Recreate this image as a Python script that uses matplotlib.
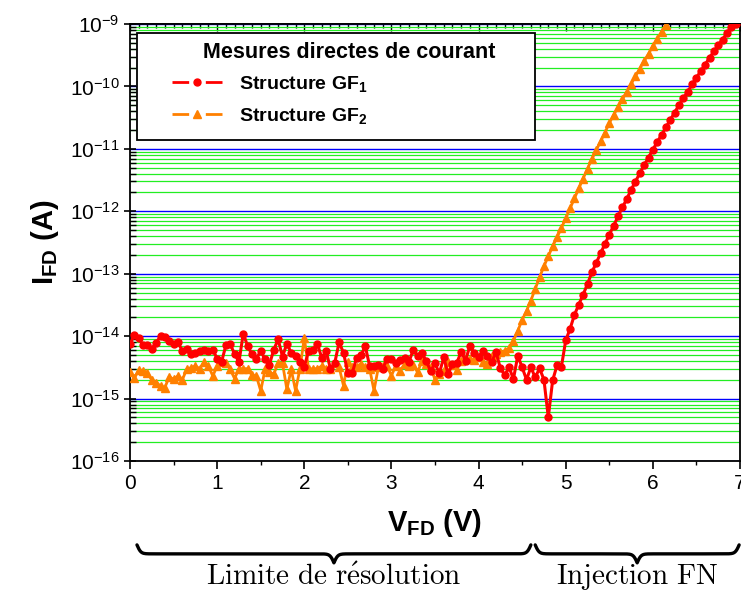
import numpy as np
import matplotlib
matplotlib.use("Agg")
import matplotlib.pyplot as plt
from matplotlib.lines import Line2D
from matplotlib.patches import Rectangle
from matplotlib.ticker import LogLocator, MultipleLocator, NullFormatter

plt.rcParams["font.family"] = ["Liberation Sans", "DejaVu Sans"]
plt.rcParams["mathtext.fontset"] = "custom"
plt.rcParams["mathtext.rm"] = "Liberation Sans"
plt.rcParams["mathtext.bf"] = "Liberation Sans:bold"
plt.rcParams["mathtext.it"] = "Liberation Sans:italic"

# ── données (log10 du courant, pas de 0.05 V) ─────────────────────────────────
pas_v = 0.05

log_i_gf1 = [
    -14.133, -13.975, -14.027, -14.149, -14.149, -14.201, -14.108, -14.000, -14.011, -14.081,
    -14.119, -14.097, -14.237, -14.201, -14.292, -14.268, -14.237, -14.222, -14.237, -14.215,
    -14.362, -14.415, -14.149, -14.131, -14.284, -14.415, -13.959, -14.161, -14.292, -14.362,
    -14.237, -14.372, -14.456, -14.215, -14.053, -14.328, -14.119, -14.268, -14.319, -14.415,
    -14.488, -14.237, -14.222, -14.122, -14.347, -14.237, -14.523, -14.426, -14.097, -14.268,
    -14.585, -14.593, -14.347, -14.310, -14.161, -14.481, -14.481, -14.469, -14.523, -14.362,
    -14.362, -14.426, -14.382, -14.347, -14.415, -14.222, -14.319, -14.276, -14.398, -14.561,
    -14.438, -14.595, -14.340, -14.606, -14.447, -14.431, -14.250, -14.394, -14.155, -14.272,
    -14.340, -14.234, -14.314, -14.420, -14.250, -14.516, -14.622, -14.500, -14.686, -14.314,
    -14.500, -14.697, -14.500, -14.660, -14.516, -14.697, -15.300,
    -14.709, -14.469, -14.495, -14.069, -13.883, -13.659, -13.494, -13.334, -13.164, -12.977,
    -12.828, -12.673, -12.524, -12.375, -12.231, -12.082, -11.938, -11.805, -11.656, -11.523,
    -11.390, -11.260, -11.140,
    -11.011, -10.894, -10.772, -10.656, -10.534, -10.418, -10.296, -10.190, -10.085, -9.968,
    -9.857, -9.757, -9.651, -9.540, -9.439, -9.344, -9.249, -9.143, -9.053, -9.000,
]

log_i_gf2 = [
    -14.569, -14.678, -14.538, -14.553, -14.585, -14.708, -14.745, -14.796, -14.824, -14.650,
    -14.690, -14.638, -14.701, -14.532, -14.504, -14.479, -14.521, -14.415, -14.479, -14.638,
    -14.479, -14.415, -14.426, -14.532, -14.680, -14.521, -14.521, -14.521, -14.627, -14.638,
    -14.876, -14.532, -14.573, -14.611, -14.426, -14.437, -14.851, -14.532, -14.876, -14.521,
    -14.027, -14.532, -14.521, -14.521, -14.479, -14.521, -14.521, -14.426, -14.500, -14.793,
    -14.420, -14.500, -14.489, -14.447, -14.500, -14.523, -14.873, -14.500, -14.474, -14.481,
    -14.633, -14.474, -14.553, -14.447, -14.474, -14.457, -14.580, -14.394, -14.447, -14.489,
    -14.701, -14.606, -14.553, -14.420, -14.463, -14.538, -14.394, -14.357, -14.367, -14.383,
    -14.340, -14.410, -14.447, -14.324, -14.287, -14.260, -14.234, -14.197,
    -14.074, -13.915, -13.739, -13.596, -13.430, -13.243, -13.057, -12.881, -12.721, -12.562,
    -12.418, -12.269, -12.114, -11.954, -11.794, -11.635, -11.475, -11.315, -11.166, -11.022,
    -10.880, -10.740, -10.587, -10.455, -10.333, -10.206, -10.085, -9.963, -9.836, -9.714,
    -9.593, -9.476, -9.354, -9.238, -9.122, -9.011,
]

v_gf1 = np.arange(len(log_i_gf1)) * pas_v
v_gf2 = np.arange(len(log_i_gf2)) * pas_v
i_gf1 = 10.0 ** np.array(log_i_gf1)
i_gf2 = 10.0 ** np.array(log_i_gf2)

# zones annotées sous l'axe (V)
zone_resolution = (0.08, 4.60)
zone_fn = (4.65, 6.99)

rouge = "#ff0000"
orange = "#ff8000"

# ── figure ────────────────────────────────────────────────────────────────────
fig = plt.figure(figsize=(7.41, 5.94), dpi=100)
ax = fig.add_axes([130 / 741, 1 - 461 / 594, 610 / 741, 437 / 594])

ax.plot(v_gf2, i_gf2, color=orange, lw=2, marker="^", ms=5.5, zorder=3)
ax.plot(v_gf1, i_gf1, color=rouge, lw=2.2, marker="o", ms=5, zorder=4)

ax.set_yscale("log")
ax.set_xlim(0, 7)
ax.set_ylim(1e-16, 1e-9)

ax.yaxis.set_major_locator(LogLocator(base=10, numticks=20))
ax.yaxis.set_minor_locator(LogLocator(base=10, subs=np.arange(2, 10), numticks=100))
ax.yaxis.set_minor_formatter(NullFormatter())
ax.xaxis.set_major_locator(MultipleLocator(1))
ax.xaxis.set_minor_locator(MultipleLocator(0.5))

ax.set_axisbelow(True)
ax.yaxis.grid(True, which="minor", color="#22ee22", lw=0.9)
ax.yaxis.grid(True, which="major", color="#0000ff", lw=1.0)

for s in ax.spines.values():
    s.set_linewidth(1.3)

ax.tick_params(axis="y", which="major", direction="inout", length=8, width=1.2, labelsize=15)
ax.tick_params(axis="y", which="minor", direction="in", length=4, width=1)
ax.tick_params(axis="x", which="major", direction="out", length=6, width=1.2, labelsize=15)
ax.tick_params(axis="x", which="minor", direction="out", length=3, width=1)

# petites graduations internes en haut
haut = ax.secondary_xaxis("top")
haut.xaxis.set_major_locator(MultipleLocator(1))
haut.xaxis.set_minor_locator(MultipleLocator(0.1))
haut.tick_params(which="both", direction="in", labeltop=False, width=1)
haut.tick_params(which="major", length=5)
haut.tick_params(which="minor", length=3)
haut.spines["top"].set_linewidth(1.3)

ax.set_xlabel(r"$\mathbf{V_{FD}}$ (V)", fontsize=21, fontweight="bold", labelpad=10)
ax.set_ylabel(r"$\mathbf{I_{FD}}$ (A)", fontsize=21, fontweight="bold", labelpad=6)

# légende : cadre, titre et entrées
cadre = Rectangle((7 / 610, (461 - 140) / 437), 398 / 610, 107 / 437,
                  transform=ax.transAxes, facecolor="white", edgecolor="black",
                  lw=1.3, zorder=5)
ax.add_patch(cadre)
ax.text((349 - 130) / 610, (461 - 53) / 437, "Mesures directes de courant",
        transform=ax.transAxes, ha="center", va="center", fontsize=15.5,
        fontweight="bold", zorder=6)

poignees = [
    Line2D([], [], color=rouge, lw=2, ls=(0, (6, 6)), marker="o", ms=5),
    Line2D([], [], color=orange, lw=2, ls=(0, (6, 6)), marker="^", ms=5.5),
]
leg = ax.legend(
    poignees,
    [r"Structure GF$_{\mathbf{1}}$", r"Structure GF$_{\mathbf{2}}$"],
    prop={"weight": "bold", "size": 14},
    loc="upper left", bbox_to_anchor=((172 - 130) / 610, (461 - 74) / 437),
    borderaxespad=0, borderpad=0, frameon=False,
    handlelength=2.57, handletextpad=0.86, labelspacing=0.62,
)
leg.set_zorder(6)


# accolades sous l'axe
def accolade(x0, x1, y_haut, profondeur, beta=45):
    xs = np.linspace(x0, x1, 401)
    demi = xs[:201]
    yh = (1 / (1 + np.exp(-beta * (demi - demi[0])))
          + 1 / (1 + np.exp(-beta * (demi - demi[-1]))))
    yh = np.concatenate([yh, yh[-2::-1]])
    ys = y_haut - profondeur * (yh - 0.5)
    ax.plot(xs, ys, transform=ax.get_xaxis_transform(), clip_on=False,
            color="black", lw=2.4, solid_capstyle="round")


accolade(*zone_resolution, -0.192, 0.041)
accolade(*zone_fn, -0.192, 0.041)

ax.text(sum(zone_resolution) / 2, -0.266, r"$\mathrm{Limite\ de\ r\acute{e}solution}$",
        transform=ax.get_xaxis_transform(), ha="center", va="center",
        fontsize=21, math_fontfamily="cm")
ax.text(sum(zone_fn) / 2, -0.266, r"$\mathrm{Injection\ FN}$",
        transform=ax.get_xaxis_transform(), ha="center", va="center",
        fontsize=21, math_fontfamily="cm")

fig.savefig("out.png", dpi=100, facecolor="white")
